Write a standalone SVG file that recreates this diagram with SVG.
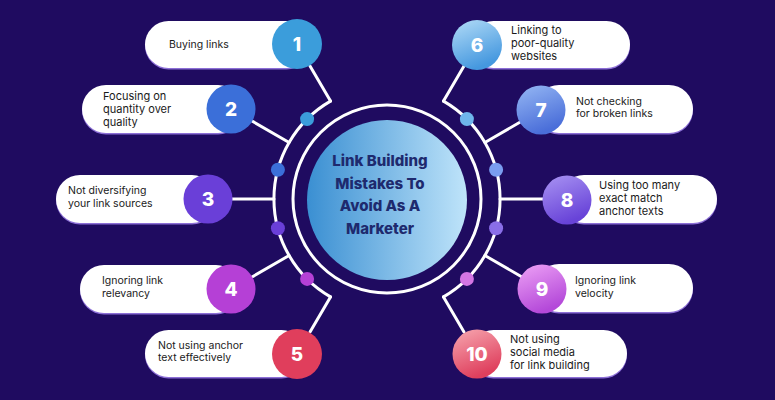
<svg xmlns="http://www.w3.org/2000/svg" width="775" height="400" viewBox="0 0 775 400">
<defs>
<style>
.pill{fill:#ffffff}
.pshadow{fill:#8c6fd6}
.lbl{font-family:Inter,"Open Sans",sans-serif;font-size:10.5px;fill:#1a1a1a}
.lbl3{font-family:Inter,"Open Sans",sans-serif;font-size:11px;fill:#1a1a1a}
.num{font-family:Inter,"Open Sans",sans-serif;font-size:19px;font-weight:800;fill:#ffffff;text-anchor:middle}
.conn{stroke:#ffffff;stroke-width:3;fill:none;stroke-linecap:round}
.title{font-family:Inter,"Open Sans",sans-serif;font-size:15px;font-weight:800;fill:#1e2a6e;text-anchor:middle}
</style>
<linearGradient id="core" x1="0" y1="0" x2="1" y2="0">
<stop offset="0" stop-color="#3a8fd2"/>
<stop offset="1" stop-color="#bfe4fa"/>
</linearGradient>
<linearGradient id="g6" x1="0" y1="0" x2="0.4" y2="1"><stop offset="0" stop-color="#b3dcf7"/><stop offset="1" stop-color="#4598df"/></linearGradient>
<linearGradient id="g7" x1="0" y1="0" x2="0.4" y2="1"><stop offset="0" stop-color="#96b8f4"/><stop offset="1" stop-color="#4a6ed9"/></linearGradient>
<linearGradient id="g8" x1="0" y1="0" x2="0.4" y2="1"><stop offset="0" stop-color="#a994f3"/><stop offset="1" stop-color="#6843d8"/></linearGradient>
<linearGradient id="g9" x1="0" y1="0" x2="0.4" y2="1"><stop offset="0" stop-color="#eea2f6"/><stop offset="1" stop-color="#b449d9"/></linearGradient>
<linearGradient id="g10" x1="0" y1="0" x2="0.4" y2="1"><stop offset="0" stop-color="#f7a8b1"/><stop offset="1" stop-color="#df3f5d"/></linearGradient>
</defs>
<rect width="775" height="400" fill="#1f0b60"/>

<g id="connectors">
<path class="conn" d="M330.5 101.1 A113 113 0 0 0 330.5 296.9"/>
<path class="conn" d="M443.5 101.1 A113 113 0 0 1 443.5 296.9"/>
<circle class="conn" cx="387" cy="199" r="94"/>
<line class="conn" x1="330.5" y1="101.1" x2="310" y2="66"/>
<line class="conn" x1="289.1" y1="142.5" x2="252" y2="121"/>
<line class="conn" x1="274" y1="199" x2="232" y2="199"/>
<line class="conn" x1="289.1" y1="255.5" x2="252" y2="277"/>
<line class="conn" x1="330.5" y1="296.9" x2="310" y2="332"/>
<line class="conn" x1="443.5" y1="101.1" x2="464" y2="66"/>
<line class="conn" x1="484.9" y1="142.5" x2="522" y2="121"/>
<line class="conn" x1="500" y1="199" x2="543" y2="199"/>
<line class="conn" x1="484.9" y1="255.5" x2="522" y2="277"/>
<line class="conn" x1="443.5" y1="296.9" x2="464" y2="332"/>
<circle cx="307.1" cy="119.1" r="7" fill="#3b9ddb"/>
<circle cx="277.9" cy="169.8" r="7" fill="#3b6fd9"/>
<circle cx="277.9" cy="228.2" r="7" fill="#6a3fd8"/>
<circle cx="307.1" cy="278.9" r="7" fill="#b540d6"/>
<circle cx="466.9" cy="119.1" r="7" fill="#6fb6ec"/>
<circle cx="496.1" cy="169.8" r="7" fill="#7a9df0"/>
<circle cx="496.1" cy="228.2" r="7" fill="#8a6ee8"/>
<circle cx="466.9" cy="278.9" r="7" fill="#d476e4"/>
</g>

<g id="center">
<circle cx="387" cy="200" r="80" fill="url(#core)"/>
<text class="title" x="380" y="166">Link Building</text>
<text class="title" x="380" y="189">Mistakes To</text>
<text class="title" x="380" y="211">Avoid As A</text>
<text class="title" x="380" y="234">Marketer</text>
</g>

<g id="node1">
<rect class="pshadow" x="145" y="22.5" width="165" height="47" rx="23.5"/>
<rect class="pill" x="145" y="21" width="165" height="47" rx="23.5"/>
<circle cx="297" cy="44" r="25" fill="#3b9ddb"/>
<text class="num" x="297" y="51">1</text>
<text class="lbl" x="169" y="48">Buying links</text>
</g>

<g id="node2">
<rect class="pshadow" x="82" y="86.5" width="160" height="48" rx="24"/>
<rect class="pill" x="82" y="85" width="160" height="48" rx="24"/>
<circle cx="231" cy="109" r="24.5" fill="#3b6fd9"/>
<text class="num" x="231" y="116">2</text>
<text class="lbl3" x="103" y="100">Focusing on</text>
<text class="lbl3" x="103" y="113">quantity over</text>
<text class="lbl3" x="103" y="126">quality</text>
</g>

<g id="node3">
<rect class="pshadow" x="56" y="176.5" width="160" height="48" rx="24"/>
<rect class="pill" x="56" y="175" width="160" height="48" rx="24"/>
<circle cx="208" cy="199" r="24.5" fill="#6a3fd8"/>
<text class="num" x="208" y="206">3</text>
<text class="lbl" x="68" y="194">Not diversifying</text>
<text class="lbl" x="68" y="207">your link sources</text>
</g>

<g id="node4">
<rect class="pshadow" x="80" y="266.5" width="160" height="48" rx="24"/>
<rect class="pill" x="80" y="265" width="160" height="48" rx="24"/>
<circle cx="231" cy="289" r="24.5" fill="#b540d6"/>
<text class="num" x="231" y="296">4</text>
<text class="lbl" x="102" y="284">Ignoring link</text>
<text class="lbl" x="102" y="297">relevancy</text>
</g>

<g id="node5">
<rect class="pshadow" x="145" y="331.5" width="160" height="47" rx="23.5"/>
<rect class="pill" x="145" y="330" width="160" height="47" rx="23.5"/>
<circle cx="297" cy="354" r="25" fill="#e03e5c"/>
<text class="num" x="297" y="361">5</text>
<text class="lbl" x="158" y="349">Not using anchor</text>
<text class="lbl" x="158" y="361">text effectively</text>
</g>

<g id="node6">
<rect class="pshadow" x="470" y="22.5" width="160" height="47" rx="23.5"/>
<rect class="pill" x="470" y="21" width="160" height="47" rx="23.5"/>
<circle cx="477" cy="45" r="25" fill="url(#g6)"/>
<text class="num" x="477" y="52">6</text>
<text class="lbl3" x="511" y="34">Linking to</text>
<text class="lbl3" x="511" y="47">poor-quality</text>
<text class="lbl3" x="511" y="60">websites</text>
</g>

<g id="node7">
<rect class="pshadow" x="535" y="86.5" width="158" height="48" rx="24"/>
<rect class="pill" x="535" y="85" width="158" height="48" rx="24"/>
<circle cx="541" cy="110" r="24.5" fill="url(#g7)"/>
<text class="num" x="541" y="117">7</text>
<text class="lbl" x="576" y="105">Not checking</text>
<text class="lbl" x="576" y="117">for broken links</text>
</g>

<g id="node8">
<rect class="pshadow" x="560" y="176.5" width="157" height="48" rx="24"/>
<rect class="pill" x="560" y="175" width="157" height="48" rx="24"/>
<circle cx="567" cy="200" r="24.5" fill="url(#g8)"/>
<text class="num" x="567" y="207">8</text>
<text class="lbl3" x="599" y="189">Using too many</text>
<text class="lbl3" x="599" y="202">exact match</text>
<text class="lbl3" x="599" y="215">anchor texts</text>
</g>

<g id="node9">
<rect class="pshadow" x="535" y="265.5" width="158" height="48" rx="24"/>
<rect class="pill" x="535" y="264" width="158" height="48" rx="24"/>
<circle cx="542" cy="289" r="24.5" fill="url(#g9)"/>
<text class="num" x="542" y="296">9</text>
<text class="lbl" x="575" y="284">Ignoring link</text>
<text class="lbl" x="575" y="297">velocity</text>
</g>

<g id="node10">
<rect class="pshadow" x="470" y="331.5" width="157" height="47" rx="23.5"/>
<rect class="pill" x="470" y="330" width="157" height="47" rx="23.5"/>
<circle cx="477" cy="354" r="24.5" fill="url(#g10)"/>
<text class="num" x="477" y="361">10</text>
<text class="lbl3" x="510" y="343">Not using</text>
<text class="lbl3" x="510" y="356">social media</text>
<text class="lbl3" x="510" y="369">for link building</text>
</g>
</svg>
